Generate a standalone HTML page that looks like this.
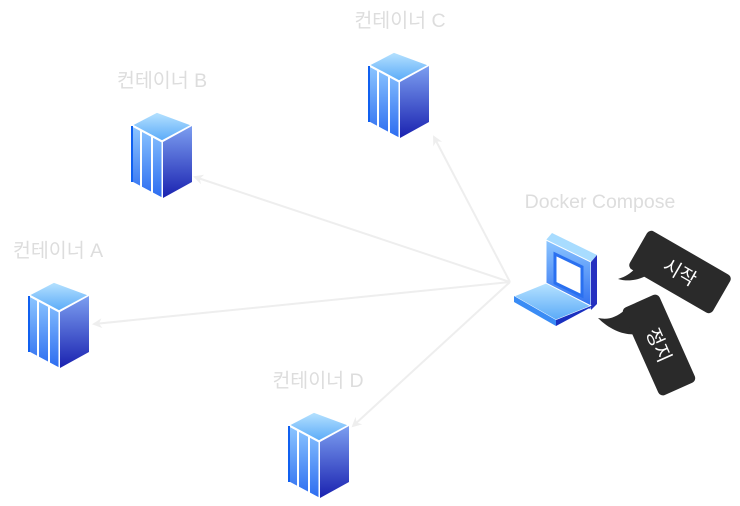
<!DOCTYPE html>
<html><head><meta charset="utf-8"><style>
body{margin:0;background:#fff;}
svg text{font-family:"Liberation Sans","Noto Sans CJK KR",sans-serif;}
</style></head><body>
<svg width="740" height="501" viewBox="0 0 740 501" xmlns="http://www.w3.org/2000/svg">
<defs>
<linearGradient id="top" x1="0" y1="0" x2="0" y2="1"><stop offset="0" stop-color="#b7e3ff"/><stop offset="1" stop-color="#5aaaf8"/></linearGradient>
<linearGradient id="fl" x1="0" y1="0" x2="0" y2="1"><stop offset="0" stop-color="#8cc6ff"/><stop offset="1" stop-color="#2d6cf0"/></linearGradient>
<linearGradient id="fr" x1="0" y1="0" x2="0" y2="1"><stop offset="0" stop-color="#7c9ef0"/><stop offset="1" stop-color="#1a22b0"/></linearGradient>
<g id="srv">
<polygon points="3,13 28,0 63,13 33,29" fill="url(#top)" stroke="#fff" stroke-width="1.5"/>
<polygon points="3,14 33,30 33,86 3,70" fill="url(#fl)" stroke="#fff" stroke-width="1"/>
<line x1="12" y1="19" x2="12" y2="75" stroke="#fff" stroke-width="2"/>
<line x1="23" y1="25" x2="23" y2="81" stroke="#fff" stroke-width="2"/>
<polygon points="34,30 63,14 63,70 34,86" fill="url(#fr)"/>
<line x1="3" y1="14" x2="3" y2="70" stroke="#1060f0" stroke-width="2"/>
</g>
<marker id="ar" markerWidth="10" markerHeight="10" refX="8" refY="5" orient="auto" markerUnits="userSpaceOnUse"><path d="M0,0 L10,5 L0,10 L3,5 Z" fill="#eee"/></marker>
</defs>
<g stroke="#eeeeee" stroke-width="2" fill="none">
<line x1="510" y1="282" x2="195" y2="177" marker-end="url(#ar)"/>
<line x1="510" y1="282" x2="434" y2="137" marker-end="url(#ar)"/>
<line x1="510" y1="282" x2="94" y2="324" marker-end="url(#ar)"/>
<line x1="510" y1="282" x2="353" y2="426" marker-end="url(#ar)"/>
</g>
<use href="#srv" x="129" y="112"/>
<use href="#srv" x="366" y="52"/>
<use href="#srv" x="26" y="282"/>
<use href="#srv" x="286" y="412"/>
<g fill="#dddddd" font-size="19.5" text-anchor="middle">
<text x="162" y="87">컨테이너 B</text>
<text x="400" y="27">컨테이너 C</text>
<text x="58" y="257">컨테이너 A</text>
<text x="318" y="387">컨테이너 D</text>
<text x="600" y="208">Docker Compose</text>
</g>
<!-- laptop -->
<polygon points="546,240 552,233 597,255 591,262" fill="#a8dcff"/>
<polygon points="546,240 591,262 591,310 546,288" fill="url(#fl)" stroke="#fff" stroke-width="1"/>
<polygon points="591,262 597,255 597,304 591,310" fill="#2530c0"/>
<polygon points="555,254 582,267 582,296 555,283" fill="#fff" stroke="#2a70f0" stroke-width="3"/>
<polygon points="514,296 546,283 591,306 556,320" fill="url(#top)" stroke="#fff" stroke-width="1"/>
<polygon points="514,296 556,320 556,326 514,302" fill="#3a8cf5"/>
<polygon points="556,320 591,306 597,304 556,326" fill="#1a30c0"/>
<!-- bubbles -->
<path d="M642,262 C632,272 628,276 618,279 C632,283 645,278 655,270 Z" fill="#2a2a2a"/>
<g transform="translate(680,272) rotate(30)"><rect x="-48" y="-22" width="96" height="44" rx="5" fill="#2a2a2a"/><text x="0" y="7" font-size="19" fill="#fff" text-anchor="middle">시작</text></g>
<path d="M625,310 C615,318 608,320 598,318 C610,330 625,336 638,334 Z" fill="#2a2a2a"/>
<g transform="translate(659,345) rotate(66)"><rect x="-48" y="-20" width="96" height="40" rx="5" fill="#2a2a2a"/><text x="0" y="7" font-size="19" fill="#fff" text-anchor="middle">정지</text></g>
</svg>
</body></html>
